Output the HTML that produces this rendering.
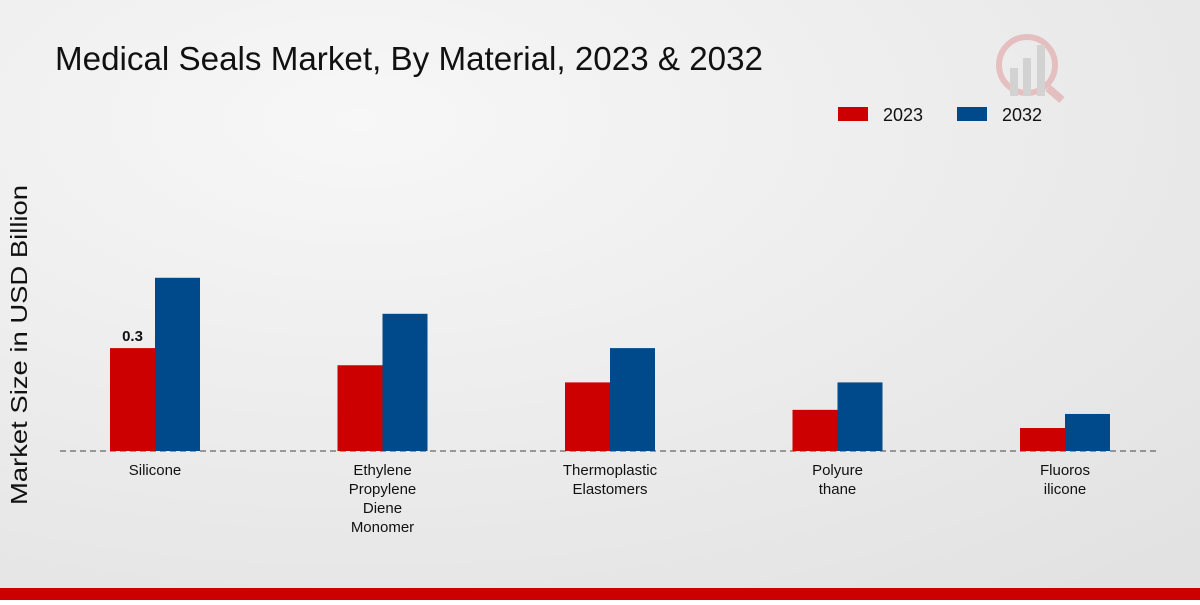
<!DOCTYPE html>
<html><head><meta charset="utf-8"><style>
body{margin:0;width:1200px;height:600px;overflow:hidden;font-family:"Liberation Sans",sans-serif}
</style></head><body>
<svg width="1200" height="600">
<defs><radialGradient id="bg" cx="0.3" cy="0.2" r="1"><stop offset="0" stop-color="#f7f7f7"/><stop offset="1" stop-color="#e2e2e2"/></radialGradient></defs>
<rect width="1200" height="600" fill="url(#bg)"/>
<rect y="588" width="1200" height="12" fill="#cc0000"/>
<text x="55" y="70" font-size="33" fill="#111" textLength="708" lengthAdjust="spacingAndGlyphs">Medical Seals Market, By Material, 2023 &amp; 2032</text>
<g opacity="0.18">
<circle cx="1027" cy="65" r="28" fill="none" stroke="#c00" stroke-width="6"/>
<rect x="1010" y="68" width="8" height="28" fill="#666"/><rect x="1023" y="58" width="8" height="38" fill="#666"/><rect x="1037" y="45" width="8" height="51" fill="#666"/>
<line x1="1048" y1="88" x2="1062" y2="100" stroke="#c00" stroke-width="8"/>
</g>
<g>
<rect x="838" y="107" width="30" height="14" fill="#cc0000"/>
<text x="883" y="121" font-size="18" fill="#111">2023</text>
<rect x="957" y="107" width="30" height="14" fill="#004a8c"/>
<text x="1002" y="121" font-size="18" fill="#111">2032</text>
</g>
<text transform="translate(27,345) rotate(-90)" text-anchor="middle" font-size="23" fill="#111" textLength="320" lengthAdjust="spacingAndGlyphs">Market Size in USD Billion</text>
<line x1="60" y1="451" x2="1160" y2="451" stroke="#444" stroke-dasharray="6,4"/>
<g id="marks"></g>
</svg>
<script>
const categories=[["Silicone"],["Ethylene","Propylene","Diene","Monomer"],["Thermoplastic","Elastomers"],["Polyure","thane"],["Fluoros","ilicone"]];
const values2023=[0.30,0.25,0.20,0.12,0.067];
const values2032=[0.505,0.40,0.30,0.20,0.108];
const valueLabels=["0.3",null,null,null,null];
const ns="http://www.w3.org/2000/svg";
const g=document.getElementById("marks");
const x0=155,step=227.5,bw=45,base=451,scale=343;
const xPos=i=>x0+i*step;
const yH=v=>v*scale;
function mk(t,a){const e=document.createElementNS(ns,t);for(const k in a)e.setAttribute(k,a[k]);g.appendChild(e);return e;}
categories.forEach((c,i)=>{
 const cx=xPos(i);
 const r=mk("rect",{x:cx-bw,y:base-yH(values2023[i]),width:bw,height:yH(values2023[i]),fill:"#cc0000"});
 
 
 const b=mk("rect",{x:cx,y:base-yH(values2032[i]),width:bw,height:yH(values2032[i]),fill:"#004a8c"});
 
 
 if(valueLabels[i]){const t=mk("text",{x:cx-bw/2,y:base-yH(values2023[i])-7,"text-anchor":"middle","font-size":"15","font-weight":"bold",fill:"#111"});t.textContent=valueLabels[i];
 
 }
 c.forEach((line,j)=>{const t=mk("text",{x:cx,y:475+j*19,"text-anchor":"middle","font-size":"15",fill:"#111"});t.textContent=line;
 
 });
});
</script>
</body></html>
